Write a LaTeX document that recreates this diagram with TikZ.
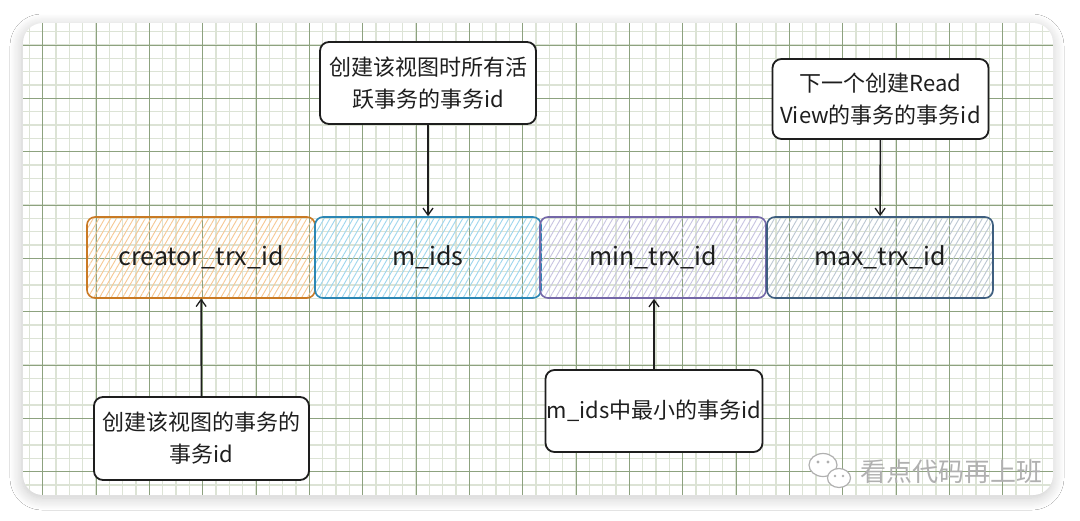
\documentclass[tikz,border=0pt]{standalone}
\usepackage{fontspec}
\setmainfont{Noto Sans CJK SC}
\usetikzlibrary{arrows.meta,patterns.meta,shadows.blur}
\definecolor{ink}{HTML}{1E1E1E}
\definecolor{gridmajor}{HTML}{8DA27F}
\definecolor{gridminor}{HTML}{DCE3D5}
\definecolor{orangeline}{HTML}{C97A24}
\definecolor{orangefill}{HTML}{F7C894}
\definecolor{blueline}{HTML}{2B86B4}
\definecolor{bluefill}{HTML}{9ED6EE}
\definecolor{purpleline}{HTML}{7467A8}
\definecolor{purplefill}{HTML}{C8C4E2}
\definecolor{slateline}{HTML}{3E5E7F}
\definecolor{slatefill}{HTML}{BCC7D3}
\definecolor{wmgrey}{HTML}{B0B0B0}
\tikzset{
  field/.style 2 args={draw=#1,pattern color=#2,line width=1.6pt,rounded corners=8pt,
    pattern={Lines[angle=60,distance=5pt,line width=0.9pt]},
    minimum width=226pt,minimum height=81pt,inner sep=0pt,
    font=\fontsize{25}{28}\selectfont,text=ink},
  callout/.style={draw=ink,fill=white,line width=1.8pt,rounded corners=9pt,align=center,
    minimum width=216pt,minimum height=82pt,inner sep=1pt,
    font=\fontsize{22}{32}\selectfont,text=ink},
  arr/.style={-{Straight Barb[length=7pt,width=10pt,line width=1.3pt]},line width=1.6pt,ink}
}

\begin{document}
\begin{tikzpicture}[x=1pt,y=-1pt]
  \useasboundingbox[fill=white] (0,0) rectangle (1080,520);

  % card with grid
  \fill[white,rounded corners=20pt,blur shadow={shadow xshift=-1pt,shadow yshift=-3pt,
    shadow blur radius=12pt,shadow blur steps=12,shadow opacity=22}] (23,23) rectangle (1053,495);
  \begin{scope}
    \clip[rounded corners=20pt] (23,23) rectangle (1053,495);
    \foreach \i in {0,...,79}
      \draw[gridminor,line width=1.1pt] (2.7+13.333*\i,23) -- (2.7+13.333*\i,495);
    \foreach \i in {0,...,37}
      \draw[gridminor,line width=1.1pt] (23,5+13.333*\i) -- (1053,5+13.333*\i);
    \foreach \i in {0,...,19}
      \draw[gridmajor,line width=0.9pt] (42.7+53.333*\i,23) -- (42.7+53.333*\i,495);
    \foreach \i in {0,...,9}
      \draw[gridmajor,line width=0.9pt] (23,45+53.333*\i) -- (1053,45+53.333*\i);
  \end{scope}

  % read view fields
  \node[field={orangeline}{orangefill},minimum width=228pt] (creator) at (201,257.5) {creator\_trx\_id};
  \node[field={blueline}{bluefill}] (mids) at (428,257.5) {m\_ids};
  \node[field={purpleline}{purplefill}] (minid) at (653,257.5) {min\_trx\_id};
  \node[field={slateline}{slatefill}] (maxid) at (880,257.5) {max\_trx\_id};

  % notes
  \node[callout] (nmids) at (428,83) {创建该视图时所有活\\跃事务的事务id};
  \node[callout,minimum height=80pt] (nmax) at (880.5,99) {下一个创建Read\\View的事务的事务id};
  \node[callout,minimum width=215pt,minimum height=83pt] (ncreator) at (201.5,438.5) {创建该视图的事务的\\事务id};
  \node[callout,minimum width=217pt,inner sep=0pt] (nmin) at (654,411) {m\_ids中最小的事务id};

  \draw[arr] (nmids) -- (mids);
  \draw[arr] (nmax) -- (maxid);
  \draw[arr] (ncreator) -- (creator);
  \draw[arr] (nmin) -- (nmin |- minid.south);

  % watermark
  \draw[wmgrey,fill=white,line width=1.2pt] (823,465) ellipse (14pt and 11.5pt);
  \draw[wmgrey,fill=white,line width=1.2pt] (839,478) ellipse (11.5pt and 9.5pt);
  \fill[wmgrey] (818,462) circle (1.6pt) (828,462) circle (1.6pt)
    (835,476) circle (1.3pt) (843,476) circle (1.3pt);
  \node[wmgrey,font=\fontsize{26}{30}\selectfont] (wm) at (951,472) {看点代码再上班};
\end{tikzpicture}
\end{document}
